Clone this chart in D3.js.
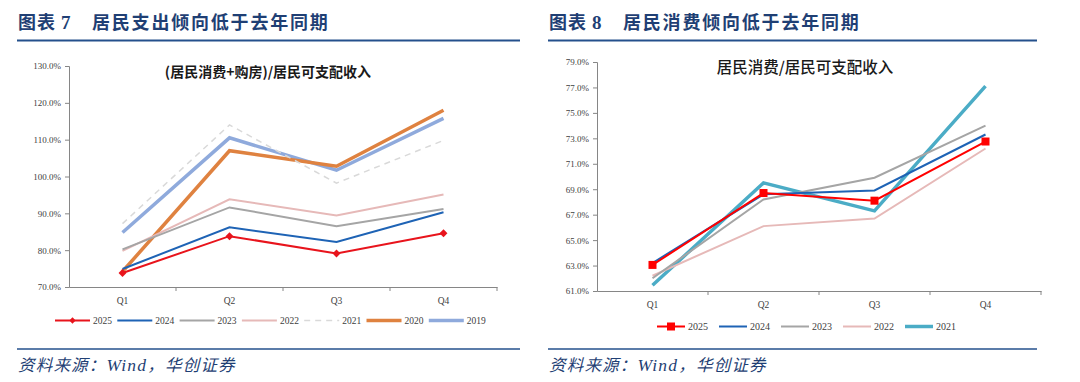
<!DOCTYPE html>
<html><head><meta charset="utf-8">
<script src="https://cdn.jsdelivr.net/npm/d3@7"></script>
<style>
html,body{margin:0;padding:0;background:#fff;}
svg{display:block;}
</style></head>
<body>
<svg id="c" width="1080" height="382"></svg>
<script>
// ---- data ----
const quarters = ["Q1","Q2","Q3","Q4"];

const leftYears = ["2025","2024","2023","2022","2021","2020","2019"];
const left2025 = [73.8, 83.8, 79.1, 84.6];
const left2024 = [74.9, 86.2, 82.2, 90.3];
const left2023 = [80.2, 91.6, 86.5, 91.2];
const left2022 = [79.8, 93.8, 89.4, 95.1];
const left2021 = [87.2, 114.0, 98.2, 109.8];
const left2020 = [74.2, 107.0, 102.8, 118.0];
const left2019 = [84.8, 110.5, 101.7, 115.8];
const leftTicks = [70,80,90,100,110,120,130];

const rightYears = ["2025","2024","2023","2022","2021"];
const right2025 = [63.05, 68.7, 68.1, 72.75];
const right2024 = [63.2, 68.6, 68.9, 73.3];
const right2023 = [62.0, 68.2, 69.9, 74.0];
const right2022 = [62.2, 66.1, 66.7, 72.2];
const right2021 = [61.45, 69.5, 67.3, 77.1];
const rightTicks = [61,63,65,67,69,71,73,75,77,79];

const svg = d3.select("#c");
const serif = "'Liberation Serif','Times New Roman',serif";
const cjk = "'Noto Sans CJK SC','Noto Sans CJK JP',sans-serif";
const navy = "#1f3f74";

// ---- headers / footers ----
function frame(x0, x1, title, num, titleX){
  const t = svg.append("text").attr("y", 29)
    .attr("fill", navy).attr("font-family", cjk).attr("font-size", 18).attr("font-weight", 700);
  t.append("tspan").attr("x", x0+1).attr("letter-spacing", 1).text("图表 ");
  t.append("tspan").attr("font-family", serif).attr("font-size", 19).text(num);
  t.append("tspan").attr("x", titleX).attr("letter-spacing", 1.8).text(title);
  svg.append("line").attr("x1", x0).attr("x2", x1).attr("y1", 40.5).attr("y2", 40.5)
    .attr("stroke", "#24508c").attr("stroke-width", 2);
  svg.append("line").attr("x1", x0).attr("x2", x1).attr("y1", 349).attr("y2", 349)
    .attr("stroke", "#24508c").attr("stroke-width", 1.6);
  const f = svg.append("text").attr("x", x0+1).attr("y", 371)
    .attr("fill", navy).attr("font-size", 16.5).attr("font-style", "italic").attr("font-family", cjk)
    .attr("letter-spacing", 1.2);
  f.append("tspan").text("资料来源：");
  f.append("tspan").attr("font-family", serif).attr("font-size", 17.5).text("Wind");
  f.append("tspan").text("，华创证券");
}
frame(17, 520, "居民支出倾向低于去年同期", "7", 92);
frame(548, 1037, "居民消费倾向低于去年同期", "8", 623);

// ---- chart builder ----
function chart(cfg){
  const g = svg.append("g");
  const x = d3.scaleBand().domain(quarters).range([cfg.x0, cfg.x1]);
  const y = d3.scaleLinear().domain(cfg.domain).range([cfg.yb, cfg.yt]);
  const ya = d3.axisLeft(y).tickValues(cfg.ticks).tickSize(4).tickFormat(d => d.toFixed(1)+"%");
  const yg = g.append("g").attr("transform", `translate(${cfg.x0},0)`).call(ya);
  yg.select(".domain").attr("stroke", "#868686");
  yg.selectAll(".tick line").attr("stroke", "#868686");
  yg.selectAll("text").attr("font-family", serif).attr("font-size", 9).attr("fill", "#404040").attr("dx", -1);
  const xa = d3.axisBottom(x).tickSize(0).tickPadding(10);
  const xg = g.append("g").attr("transform", `translate(0,${cfg.yb})`).call(xa);
  xg.select(".domain").attr("stroke", "#868686");
  xg.selectAll("text").attr("font-family", serif).attr("font-size", 9.5).attr("fill", "#404040");
  // boundary ticks
  g.selectAll(".bt").data(quarters.slice(1).concat(["end"])).enter().append("line")
    .attr("x1", (d,i) => i < 3 ? x(d) : cfg.x1).attr("x2", (d,i) => i < 3 ? x(d) : cfg.x1)
    .attr("y1", cfg.yb).attr("y2", cfg.yb+4).attr("stroke", "#868686");
  const line = d3.line().x((d,i) => x(quarters[i]) + x.bandwidth()/2).y(d => y(d));
  cfg.series.slice().reverse().forEach(s => {
    g.append("path").attr("d", line(s.values)).attr("fill", "none")
      .attr("stroke", s.color).attr("stroke-width", s.w)
      .attr("stroke-dasharray", s.dash || null).attr("stroke-linejoin", "miter");
    if (s.marker === "diamond") {
      g.selectAll(null).data(s.values).enter().append("path")
        .attr("d", d3.symbol(d3.symbolDiamond2, 40))
        .attr("transform", (d,i) => `translate(${x(quarters[i])+x.bandwidth()/2},${y(d)})`)
        .attr("fill", s.color);
    } else if (s.marker === "square") {
      g.selectAll(null).data(s.values).enter().append("rect")
        .attr("x", (d,i) => x(quarters[i])+x.bandwidth()/2-4).attr("y", d => y(d)-4)
        .attr("width", 8).attr("height", 8).attr("fill", s.color);
    }
  });
  // chart title
  g.append("text").attr("x", cfg.titleX).attr("y", cfg.titleY).attr("text-anchor", "middle")
    .attr("font-family", cjk).attr("font-size", cfg.titleSize).attr("font-weight", cfg.titleBold ? 700 : 500)
    .attr("fill", "#1a1a1a").text(cfg.title);
  // legend
  let lx = cfg.legX;
  cfg.series.forEach(s => {
    const ly = cfg.legY;
    g.append("line").attr("x1", lx).attr("x2", lx + cfg.legLen).attr("y1", ly).attr("y2", ly)
      .attr("stroke", s.color).attr("stroke-width", s.w).attr("stroke-dasharray", s.dash || null);
    if (s.marker === "diamond") {
      g.append("path").attr("d", d3.symbol(d3.symbolDiamond2, 25)())
        .attr("transform", `translate(${lx+cfg.legLen/2},${ly})`).attr("fill", s.color);
    } else if (s.marker === "square") {
      g.append("rect").attr("x", lx+cfg.legLen/2-4).attr("y", ly-4).attr("width", 8).attr("height", 8).attr("fill", s.color);
    }
    g.append("text").attr("x", lx + cfg.legLen + 3).attr("y", ly + 3.5)
      .attr("font-family", serif).attr("font-size", cfg.legFont).attr("fill", "#404040").text(s.name);
    lx += cfg.legStep;
  });
}

chart({
  x0: 69, x1: 497, yt: 66, yb: 287, domain: [70,130], ticks: leftTicks,
  title: "(居民消费+购房)/居民可支配收入", titleX: 268, titleY: 77, titleBold: true, titleSize: 14,
  legX: 55, legY: 320.5, legLen: 35, legStep: 62.3, legFont: 9.5,
  series: [
    {name: leftYears[0], values: left2025, color: "#e8141c", w: 2, marker: "diamond"},
    {name: leftYears[1], values: left2024, color: "#1e63b5", w: 2},
    {name: leftYears[2], values: left2023, color: "#a5a5a5", w: 2},
    {name: leftYears[3], values: left2022, color: "#e6b9b8", w: 2},
    {name: leftYears[4], values: left2021, color: "#d9d9d9", w: 1.5, dash: "6,5"},
    {name: leftYears[5], values: left2020, color: "#df8240", w: 3.5},
    {name: leftYears[6], values: left2019, color: "#8faadc", w: 3.5}
  ]
});

chart({
  x0: 597, x1: 1041, yt: 62, yb: 291, domain: [61,79], ticks: rightTicks,
  title: "居民消费/居民可支配收入", titleX: 805, titleY: 73, titleBold: false, titleSize: 15.5,
  legX: 657, legY: 326.5, legLen: 28, legStep: 62, legFont: 10,
  series: [
    {name: rightYears[0], values: right2025, color: "#ff0000", w: 2, marker: "square"},
    {name: rightYears[1], values: right2024, color: "#1e63b5", w: 2},
    {name: rightYears[2], values: right2023, color: "#a5a5a5", w: 2},
    {name: rightYears[3], values: right2022, color: "#e6b9b8", w: 2},
    {name: rightYears[4], values: right2021, color: "#4bacc6", w: 3.5}
  ]
});
</script>
</body></html>
